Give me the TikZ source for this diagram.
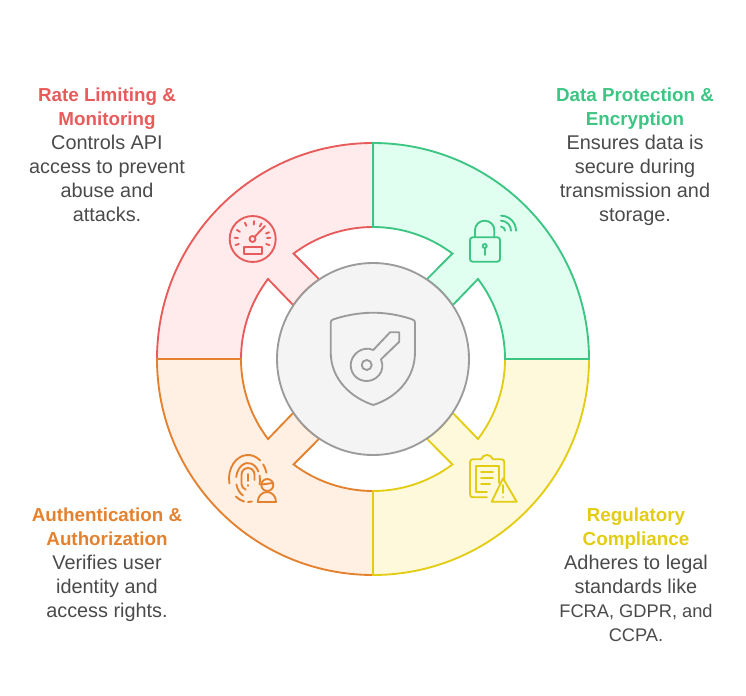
\documentclass[tikz,border=0pt]{standalone}
\usepackage{fontspec}
\setmainfont{Liberation Sans}
\definecolor{cred}{HTML}{E85B5B}\definecolor{fred}{HTML}{FFEBEB}
\definecolor{cgre}{HTML}{3CC583}\definecolor{fgre}{HTML}{E0FFF0}
\definecolor{cyel}{HTML}{E3CC14}\definecolor{fyel}{HTML}{FFF9DB}
\definecolor{cora}{HTML}{E4812F}\definecolor{fora}{HTML}{FFF0E3}
\definecolor{ctxt}{HTML}{4A4A4A}
\definecolor{cmid}{HTML}{9B9B9B}\definecolor{fmid}{HTML}{F4F4F4}
\tikzset{
 sector/.style={line width=1.4pt,line join=miter},
 icon/.style={line width=1.4pt,line cap=round,line join=round},
 blurb/.style={align=center,anchor=north,inner sep=0pt,text=ctxt,font=\fontsize{14.9}{18}\selectfont},
}
\newcommand{\hd}[2]{{\fontsize{14.1}{18}\selectfont\color{#1}\bfseries #2}}
\newcommand{\capsline}[1]{{\fontsize{13.7}{18}\selectfont #1}}
\newcommand{\ellarc}[4]{\draw ({#1*cos(#3)},{#2*sin(#3)}) arc[start angle=#3,end angle=#4,x radius=#1,y radius=#2];}
\begin{document}
\begin{tikzpicture}[x=.75pt,y=-.75pt]
\useasboundingbox (0,0) rectangle (746,696);
\begin{scope}[shift={(373,359)},yscale=-1]
 % red
 \draw[sector,draw=cred,fill=fred] (90:216) arc[start angle=90,end angle=180,radius=216] -- (180:132)
   arc[start angle=180,end angle=142.7,radius=132] -- (146:96) arc[start angle=146,end angle=124,radius=96]
   -- (127:132) arc[start angle=127,end angle=90,radius=132] -- cycle;
 % orange
 \draw[sector,draw=cora,fill=fora] (270:216) arc[start angle=270,end angle=180,radius=216] -- (180:132)
   arc[start angle=180,end angle=217.3,radius=132] -- (214:96) arc[start angle=214,end angle=236,radius=96]
   -- (233:132) arc[start angle=233,end angle=270,radius=132] -- cycle;
 % yellow
 \draw[sector,draw=cyel,fill=fyel] (270:216) arc[start angle=270,end angle=360,radius=216] -- (0:132)
   arc[start angle=0,end angle=-37.3,radius=132] -- (-34:96) arc[start angle=-34,end angle=-56,radius=96]
   -- (-53:132) arc[start angle=-53,end angle=-90,radius=132] -- cycle;
 % green
 \draw[sector,draw=cgre,fill=fgre] (90:216) arc[start angle=90,end angle=0,radius=216] -- (0:132)
   arc[start angle=0,end angle=37.3,radius=132] -- (34:96) arc[start angle=34,end angle=56,radius=96]
   -- (53:132) arc[start angle=53,end angle=90,radius=132] -- cycle;
 \node[circle,draw=cmid,fill=fmid,line width=1.4pt,minimum size=144pt,inner sep=0pt] (hub) at (0,0) {};
\end{scope}
% shield with key
\draw[icon,draw=cmid] (373.3,312.7) .. controls (358,312.7) and (343,316) .. (333,319.5)
  .. controls (331.3,320.2) and (330.7,321) .. (330.7,323) -- (330.7,352)
  .. controls (330.7,380) and (352,398) .. (373.3,405)
  .. controls (395,398) and (415,380) .. (415,352) -- (415,323)
  .. controls (415,321) and (414.5,320.2) .. (412.5,319.5)
  .. controls (403,316) and (388,312.7) .. (373.3,312.7) -- cycle;
\draw[icon,draw=cmid] (373.3,350) -- (390,332.3) -- (399.3,332.3) -- (399.3,341.7) -- (381,359.3)
  .. controls (386,372) and (376,381) .. (366.7,381)
  .. controls (357.5,381) and (350.7,374) .. (350.7,365)
  .. controls (350.7,355) and (362,345) .. (373.3,350) -- cycle;
\draw[icon,draw=cmid] (366.7,365) circle[radius=5];
% gauge
\begin{scope}[icon,draw=cred]
 \draw (252.7,239) circle[radius=23];
 \draw (252.5,239) circle[radius=3];
 \draw (254.6,236.9) -- (265,226);
 \draw (244,247.3) rectangle (261.7,254);
 \begin{scope}[shift={(252.5,239)},yscale=-1]
  \foreach \a in {200,176,150,115,85,60,22,4,-20}
   \draw (\a:14.5) -- (\a:18);
 \end{scope}
\end{scope}
% lock
\begin{scope}[icon,draw=cgre]
 \draw[rounded corners=2pt] (470,237.3) rectangle (500,261.7);
 \draw (475,237.3) -- (475,230) arc[start angle=180,end angle=0,x radius=9.65,y radius=-9.3] -- (494.3,237.3);
 \draw (484.7,246) circle[radius=2];
 \draw (484.7,248) -- (484.7,255);
 \begin{scope}[shift={(501,230.7)},yscale=-1]
  \foreach \r in {4,10,15}
   \draw (90:\r) arc[start angle=90,end angle=0,radius=\r];
 \end{scope}
\end{scope}
% fingerprint with person
\begin{scope}[icon,draw=cora]
 \begin{scope}[shift={(248,478.5)},yscale=-1]
  \ellarc{19}{23.5}{14}{37}
  \ellarc{19}{23.5}{50}{192}
  \ellarc{19}{23.5}{230}{258}
  \ellarc{19}{23.5}{270}{282}
 \end{scope}
 \begin{scope}[shift={(248,480)},yscale=-1]
  \ellarc{12}{17}{30}{170}
  \ellarc{12}{17}{-15}{15}
  \ellarc{12}{17}{195}{245}
 \end{scope}
 \draw (254.5,480) -- (254.5,474.5) arc[start angle=0,end angle=180,x radius=6.5,y radius=-6.5] -- (241.5,484)
   arc[start angle=180,end angle=250,x radius=6.5,y radius=-6];
 \draw (248,474) -- (248,481);
 \draw (248,485) -- (248,486);
 \draw (267.3,485) circle[radius=6];
 \draw (261.5,484.5) -- (273,483);
 \draw (257.7,502) .. controls (258,496) and (262,492) .. (267,492) .. controls (272,492) and (276,496) .. (276,502) -- cycle;
\end{scope}
% clipboard with warning
\begin{scope}[icon,draw=cyel]
 \draw (487,497.3) -- (473,497.3) .. controls (471,497.3) and (470,496.3) .. (470,494.3) -- (470,462.3)
   .. controls (470,460.3) and (471,459.3) .. (473,459.3) -- (481,459.3)
   .. controls (483,453.5) and (491,453.5) .. (493,459.3) -- (501.3,459.3)
   .. controls (503.3,459.3) and (504.3,460.3) .. (504.3,462.3) -- (504.3,481);
 \draw (487,492.3) -- (476,492.3) -- (476,466) -- (499,466) -- (499,483);
 \draw (481,471.7) -- (493,471.7);
 \draw (481,477.7) -- (493,477.7);
 \draw (481,483.7) -- (490,483.7);
 \draw (503,478.3) -- (516.7,501.7) -- (491.7,501.7) -- cycle;
 \draw (503.3,485) -- (503.3,493);
 \draw (503.3,497) -- (503.3,497.1);
\end{scope}
% texts
\node[blurb] (tl) at (107,88) {\hd{cred}{Rate Limiting \&}\\\hd{cred}{Monitoring}\\Controls API\\access to prevent\\abuse and\\attacks.};
\node[blurb] (tr) at (635,88) {\hd{cgre}{Data Protection \&}\\\hd{cgre}{Encryption}\\Ensures data is\\secure during\\transmission and\\storage.};
\node[blurb] (bl) at (107,508) {\hd{cora}{Authentication \&}\\\hd{cora}{Authorization}\\Verifies user\\identity and\\access rights.};
\node[blurb] (br) at (636,508) {\hd{cyel}{Regulatory}\\\hd{cyel}{Compliance}\\Adheres to legal\\standards like\\\capsline{FCRA, GDPR, and}\\\capsline{CCPA.}};
\end{tikzpicture}
\end{document}
